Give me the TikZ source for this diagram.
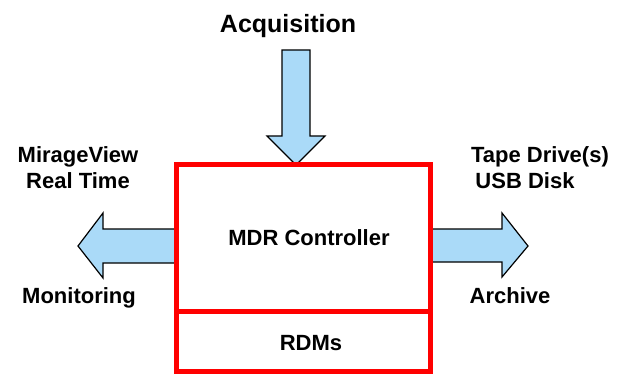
\documentclass[tikz,border=0pt]{standalone}
\usepackage{fontspec}
\setmainfont{Liberation Sans}
\definecolor{arrowblue}{RGB}{170,218,248}
\definecolor{boxred}{RGB}{255,0,0}
\begin{document}
\begin{tikzpicture}[x=1pt,y=-1pt,
  lbl/.style={font=\fontsize{22}{25}\selectfont\bfseries, inner sep=0pt, anchor=base},
  bigarrow/.style={draw=black, line width=1.2pt, fill=arrowblue, line join=miter},
  redbox/.style={draw=boxred, line width=5pt, inner sep=0pt, outer sep=0pt}]
\useasboundingbox (0,0) rectangle (628,374);
% arrows
\draw[bigarrow] (282,50) -- (310,50) -- (310,136) -- (325,136) -- (296,165) -- (267,136) -- (282,136) -- cycle;
\draw[bigarrow] (177,229) -- (103,229) -- (103,213) -- (78,246) -- (103,278) -- (103,263) -- (177,263) -- cycle;
\draw[bigarrow] (430,229) -- (502,229) -- (502,213) -- (528,246) -- (502,277) -- (502,262) -- (430,262) -- cycle;
% boxes
\node[redbox, minimum width=254pt, minimum height=147pt] (ctrl) at (303,237.5) {};
\node[redbox, minimum width=254pt, minimum height=60pt, anchor=north] (rdm) at (ctrl.south) {};
% labels
\node[lbl, font=\fontsize{25}{28}\selectfont\bfseries] (acq) at (288,33) {Acquisition};
\node[lbl] (mdr) at (309,245) {MDR Controller};
\node[lbl] (rdms) at (311,350) {RDMs};
\node[lbl] (mv) at (78,163) {MirageView};
\node[lbl] (rt) at (78,188) {Real Time};
\node[lbl] (mon) at (79,303) {Monitoring};
\node[lbl] (tape) at (540,163) {Tape Drive(s)};
\node[lbl] (usb) at (525,188) {USB Disk};
\node[lbl] (arch) at (510,303) {Archive};
\end{tikzpicture}
\end{document}
